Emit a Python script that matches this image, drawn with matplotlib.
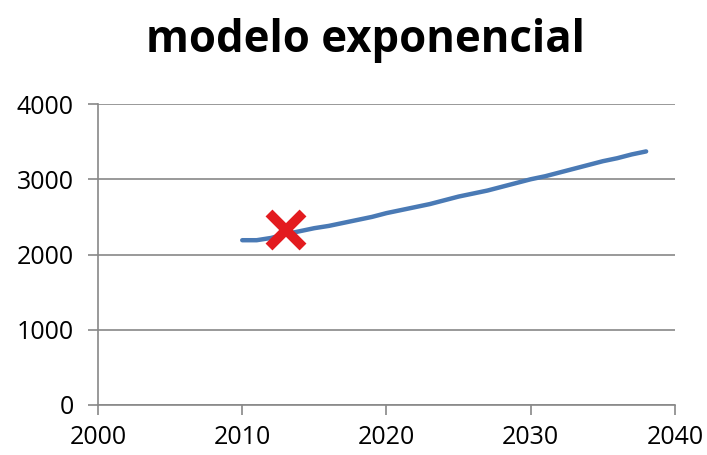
import matplotlib
matplotlib.use("Agg")
import matplotlib.pyplot as plt

years = [2010, 2011, 2012, 2013, 2014, 2015, 2016, 2017, 2018, 2019, 2020,
         2021, 2022, 2023, 2024, 2025, 2026, 2027, 2028, 2029, 2030,
         2031, 2032, 2033, 2034, 2035, 2036, 2037, 2038]
values = [2190, 2190, 2220, 2270, 2310, 2350, 2380, 2420, 2460, 2500, 2550,
          2590, 2630, 2670, 2720, 2770, 2810, 2850, 2900, 2950, 3000,
          3040, 3090, 3140, 3190, 3240, 3280, 3330, 3370]
marker_year = [2013]
marker_value = [2325]
x_ticks = [2000, 2010, 2020, 2030, 2040]
y_ticks = [0, 1000, 2000, 3000, 4000]
title = "modelo exponencial"

plt.rcParams['font.family'] = ['Open Sans', 'DejaVu Sans']
fig = plt.figure(figsize=(7.07, 4.55), dpi=100)
ax = fig.add_axes([0.1386, 0.1099, 0.8161, 0.6615])

ax.plot(years, values, color='#4a7ab5', linewidth=3.2, solid_capstyle='round', zorder=3)
ax.plot(marker_year, marker_value, marker='x', color='#e31b1f', markersize=24,
        markeredgewidth=7, linestyle='none', zorder=4)

ax.set_xlim(2000, 2040)
ax.set_ylim(0, 4000)
ax.set_xticks(x_ticks)
ax.set_yticks(y_ticks)
ax.yaxis.grid(True, color='#888888', linewidth=1.2)
ax.set_axisbelow(True)
for s in ['top', 'right']:
    ax.spines[s].set_visible(False)
for s in ['left', 'bottom']:
    ax.spines[s].set_color('#888888')
    ax.spines[s].set_linewidth(1.2)
ax.tick_params(axis='both', colors='#888888', length=7.5, width=1.2,
               labelsize=18, labelcolor='#000000')
ax.tick_params(axis='x', pad=7)
ax.tick_params(axis='y', pad=10)

fig.text(365 / 707, 1 - 52 / 455, title, ha='center', va='baseline', fontsize=31.5, fontweight='bold')

fig.savefig('out.png', dpi=100)
